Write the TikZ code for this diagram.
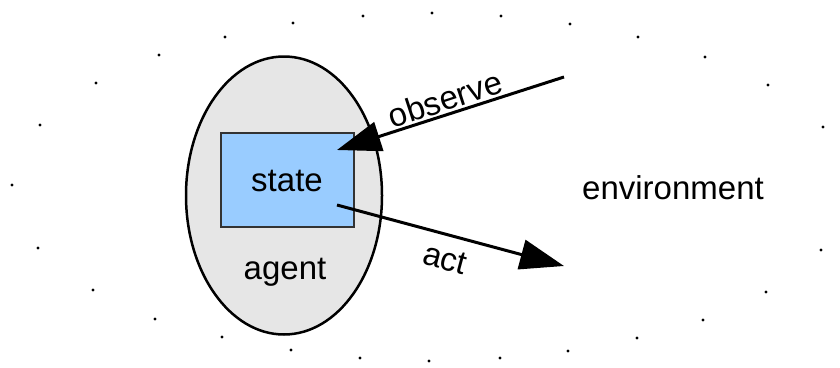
\documentclass[tikz,border=0pt]{standalone}
\usepackage{fontspec}
\setmainfont{Liberation Sans}
\usetikzlibrary{shapes.geometric,arrows.meta}
\definecolor{agentgrey}{HTML}{E6E6E6}
\definecolor{stateblue}{HTML}{99CCFF}
\definecolor{boxline}{HTML}{333333}
\tikzset{
  lbl/.style={font=\fontsize{33}{38}\selectfont, inner sep=0pt},
  agentshape/.style={ellipse, draw=black, line width=2.5pt, fill=agentgrey, minimum width=196pt, minimum height=278pt, inner sep=0pt},
  statebox/.style={rectangle, draw=boxline, line width=1.3pt, fill=stateblue, minimum width=133pt, minimum height=94pt, inner sep=0pt},
  conn/.style={line width=3pt, -{Triangle[length=44pt,width=30pt]}},
  envdot/.style={circle, fill=black, inner sep=0pt, minimum size=3.2pt}
}
\begin{document}
\begin{tikzpicture}[x=1pt,y=-1pt]
\useasboundingbox (0,0) rectangle (840,367);
% dotted environment boundary
\foreach \p [count=\i] in {(12,185),(40,125),(96,83),(159,55),(225,37),(293,23),(363,16),(432,13),(501,16),(570,24),(638,37),(705,57),(768,85),(823,127),
  (38,248),(93,290),(155,319),(222,337),(291,350),(360,358),(429,361),(500,358),(568,351),(637,338),(703,320),(766,292),(821,250)}
  \node[envdot] (d\i) at \p {};
\node[agentshape] (agent) at (284,195.5) {};
\node[statebox] (state) at (287.5,180) {};
\node[lbl] (statelbl) at (287,181) {state};
\node[lbl] (agentlbl) at (285,272) {agent};
\node[lbl] (envlbl) at (673,188) {environment};
\coordinate (obsStart) at (564,77);
\coordinate (obsEnd) at (337,150);
\coordinate (actStart) at (337,205);
\coordinate (actEnd) at (564,266);
\draw[conn] (obsStart) -- (obsEnd);
\draw[conn] (actStart) -- (actEnd);
\node[lbl, rotate=18] (obslbl) at (445,99) {observe};
\node[lbl, rotate=-15] (actlbl) at (445,259) {act};
\end{tikzpicture}
\end{document}
